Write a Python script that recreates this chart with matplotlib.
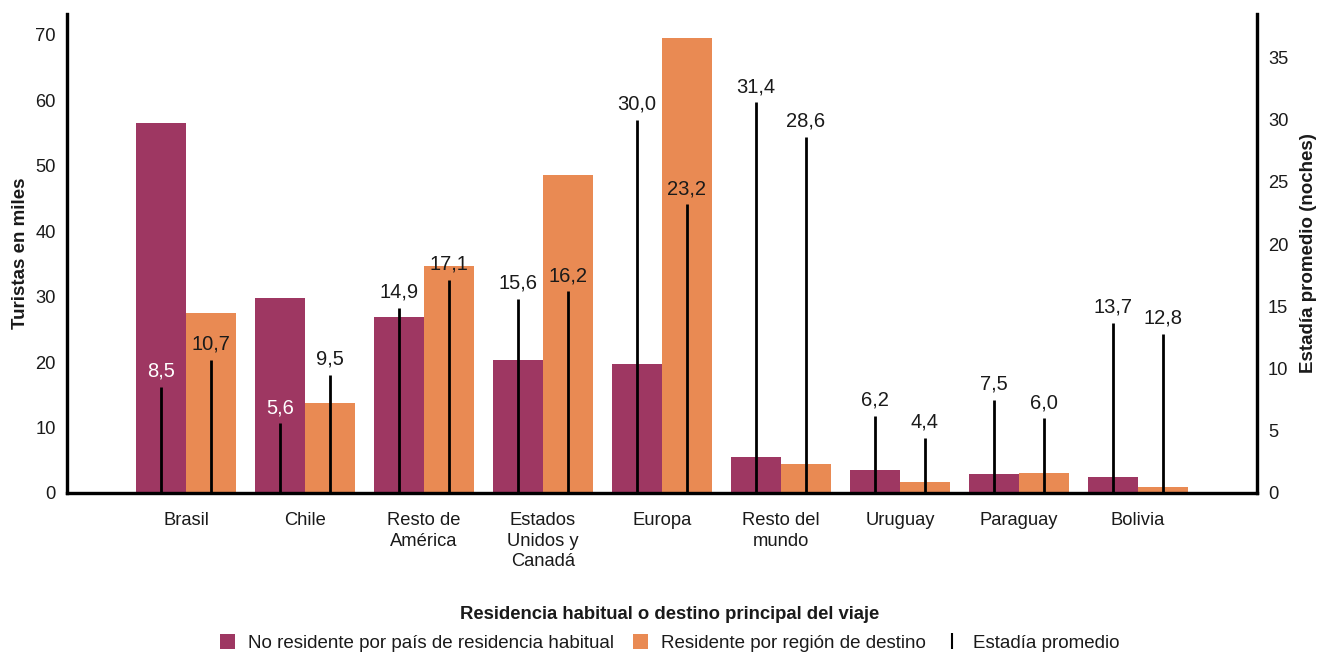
import matplotlib
matplotlib.use("Agg")
import matplotlib.pyplot as plt
from matplotlib.patches import Patch
from matplotlib.lines import Line2D
import numpy as np

plt.rcParams['font.family'] = ['Liberation Sans', 'DejaVu Sans']

categories = ["Brasil", "Chile", "Resto de\nAmérica", "Estados\nUnidos y\nCanadá", "Europa",
              "Resto del\nmundo", "Uruguay", "Paraguay", "Bolivia"]
no_residente = [56.5, 29.8, 26.9, 20.3, 19.7, 5.5, 3.5, 2.9, 2.4]
residente = [27.5, 13.8, 34.7, 48.6, 69.5, 4.4, 1.7, 3.1, 0.9]
estadia_no_res = [8.5, 5.6, 14.9, 15.6, 30.0, 31.4, 6.2, 7.5, 13.7]
estadia_res = [10.7, 9.5, 17.1, 16.2, 23.2, 28.6, 4.4, 6.0, 12.8]
left_ticks = [0, 10, 20, 30, 40, 50, 60, 70]
right_ticks = [0, 5, 10, 15, 20, 25, 30, 35]

c_purple = "#9E3762"
c_orange = "#E98A53"
tc = "#1a1a1a"

fig = plt.figure(figsize=(13.28, 6.52), dpi=100)
ax = fig.add_axes([0.0505, 0.2439, 0.896, 0.7346])
ax2 = ax.twinx()

x = np.arange(len(categories))
w = 0.42
ax.bar(x - w / 2, no_residente, width=w, color=c_purple, zorder=2)
ax.bar(x + w / 2, residente, width=w, color=c_orange, zorder=2)
ax.set_xlim(-1, 9)
ax.set_ylim(0, 73.2)
ax2.set_ylim(0, 38.5)

ax2.vlines(x - w / 2, 0, estadia_no_res, color="black", lw=2, zorder=3)
ax2.vlines(x + w / 2, 0, estadia_res, color="black", lw=2, zorder=3)
white_labels = {(0, 0), (1, 0)}
for i in range(len(categories)):
    for j, (xx, v) in enumerate([(x[i] - w / 2, estadia_no_res[i]), (x[i] + w / 2, estadia_res[i])]):
        col = "white" if (i, j) in white_labels else tc
        ax2.annotate(f"{v:.1f}".replace(".", ","), (xx, v), xytext=(0, 4.5),
                     textcoords="offset points", ha="center", va="bottom",
                     fontsize=14.5, color=col, zorder=4)

ax.set_yticks(left_ticks)
ax2.set_yticks(right_ticks)
ax.set_xticks(x)
ax.set_xticklabels(categories, fontsize=13.2, color=tc, linespacing=1.25)
ax.tick_params(axis="x", length=0, pad=14)
ax.tick_params(axis="y", length=0, pad=8, labelsize=13.2, labelcolor=tc)
ax2.tick_params(axis="y", length=0, pad=8, labelsize=13.2, labelcolor=tc)

for a in (ax, ax2):
    a.spines["top"].set_visible(False)
    for s in ("left", "right", "bottom"):
        a.spines[s].set_linewidth(2.3)
        a.spines[s].set_color("black")

ax.set_ylabel("Turistas en miles", fontsize=13.5, fontweight="bold", color=tc, labelpad=5)
ax2.set_ylabel("Estadía promedio (noches)", fontsize=13.5, fontweight="bold", color=tc, labelpad=8)

fig.text(0.5045, 0.058, "Residencia habitual o destino principal del viaje",
         ha="center", va="center", fontsize=13.3, fontweight="bold", color=tc)

handles = [Patch(facecolor=c_purple, edgecolor="none"),
           Patch(facecolor=c_orange, edgecolor="none"),
           Line2D([], [], color="black", marker="|", linestyle="none", markersize=12, markeredgewidth=1.5)]
labels = ["No residente por país de residencia habitual", "Residente por región de destino", "Estadía promedio"]
fig.legend(handles, labels, loc="center", bbox_to_anchor=(0.5045, 0.014), ncol=3, frameon=False,
           fontsize=13.5, handlelength=0.8, handleheight=0.9, handletextpad=0.7, columnspacing=1.0,
           labelcolor=tc, borderpad=0)

fig.savefig("out.png", dpi=100)
